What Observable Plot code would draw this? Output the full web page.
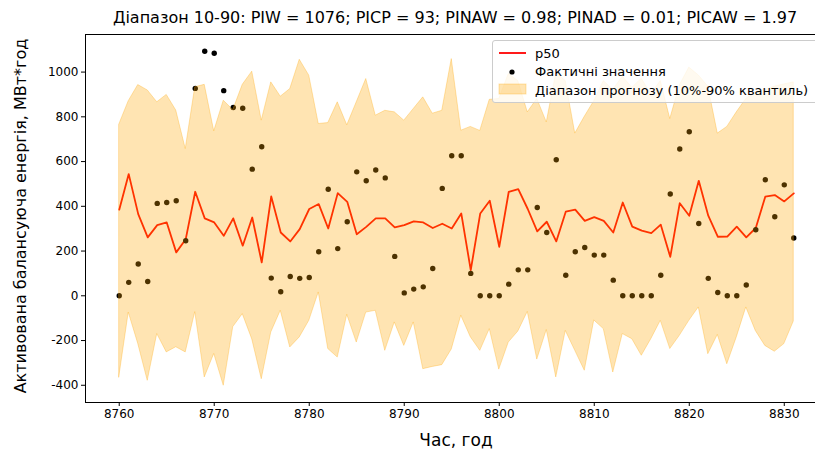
<!DOCTYPE html>
<html>
<head>
<meta charset="utf-8">
<script src="https://cdn.jsdelivr.net/npm/d3@7"></script>
<script src="https://cdn.jsdelivr.net/npm/@observablehq/plot@0.6"></script>
<style>
  html, body { margin: 0; padding: 0; background: #fff; overflow: hidden; }
  #wrap { position: relative; width: 815px; height: 452px; overflow: hidden; font-family: "DejaVu Sans", sans-serif; color: #000; }
  #title { position: absolute; left: 455px; top: 8px; transform: translateX(-50%); white-space: nowrap; font-size: 16px; }
  #ylab { position: absolute; left: 20px; top: 216px; transform: translate(-50%, -50%) rotate(-90deg); white-space: nowrap; font-size: 16px; }
  #xlab { position: absolute; left: 456px; top: 440px; transform: translate(-50%, -50%); white-space: nowrap; font-size: 17px; }
  #legend { position: absolute; left: 492px; top: 40px; width: 340px; height: 63px; background: rgba(255,255,255,0.8); border: 1px solid #cccccc; border-radius: 3px; box-sizing: border-box; }
  #legend svg { position: absolute; left: 0; top: 0; overflow: visible; }
</style>
</head>
<body>
<div id="wrap"></div>
<script>
const hours = [8760,8761,8762,8763,8764,8765,8766,8767,8768,8769,8770,8771,8772,8773,8774,8775,8776,8777,8778,8779,
  8780,8781,8782,8783,8784,8785,8786,8787,8788,8789,8790,8791,8792,8793,8794,8795,8796,8797,8798,8799,
  8800,8801,8802,8803,8804,8805,8806,8807,8808,8809,8810,8811,8812,8813,8814,8815,8816,8817,8818,8819,
  8820,8821,8822,8823,8824,8825,8826,8827,8828,8829,8830,8831];

const p50 = [385,544,365,261,316,328,194,253,465,346,328,268,346,224,350,149,444,283,243,298,
  388,410,301,459,420,275,308,346,346,306,316,333,328,303,322,301,368,115,368,425,
  219,465,477,388,288,331,243,376,385,335,352,335,283,417,309,291,280,318,174,414,
  358,514,358,264,265,309,261,303,443,450,422,458];

const actual = [0,60,142,64,413,417,425,246,927,1093,1084,917,842,838,566,666,79,18,86,78,
  82,197,476,211,331,554,514,562,527,176,13,30,40,122,480,626,626,100,0,0,
  0,52,116,116,395,283,608,92,197,216,182,182,70,0,0,0,0,92,455,656,
  733,323,78,15,0,0,48,295,519,353,496,258];

const lower = [-365,-75,-215,-380,-171,-253,-230,-253,-73,-365,-260,-402,-140,-82,-195,-373,-164,-67,-231,-186,
  -112,15,-238,-276,-85,-209,-75,-67,-246,-119,-224,-119,-328,-318,-310,-240,-89,-185,-246,-149,
  -330,-209,-160,-72,-285,-153,-365,-157,-246,-335,-110,-149,-343,-171,-194,-268,-194,-112,-238,-179,
  -112,-52,-261,-175,-306,-186,-52,-157,-224,-250,-216,-115];

const upper = [765,870,942,918,865,898,828,656,932,943,735,872,830,943,1002,783,954,890,924,1055,
  984,768,772,865,762,865,969,805,827,820,783,835,887,814,827,1058,738,755,737,876,
  880,991,960,820,880,775,995,960,725,800,870,960,920,980,930,970,900,960,790,940,
  1020,985,935,725,755,820,880,910,920,935,945,954];

const xTicks = [8760, 8770, 8780, 8790, 8800, 8810, 8820, 8830];
const yTicks = [-400, -200, 0, 200, 400, 600, 800, 1000];

const titleText = "Діапазон 10-90: PIW = 1076; PICP = 93; PINAW = 0.98; PINAD = 0.01; PICAW = 1.97";
const xLabel = "Час, год";
const yLabel = "Активована балансуюча енергія, МВт*год";
const legendLabels = ["p50", "Фактичні значення", "Діапазон прогнозу (10%-90% квантиль)"];

const data = hours.map((h, i) => ({h, p50: p50[i], actual: actual[i], lo: lower[i], hi: upper[i]}));

const xDomain = [8756.45, 8834.55];
const yDomain = [-477, 1168];

const chart = Plot.plot({
  width: 815,
  height: 452,
  marginLeft: 85,
  marginTop: 34,
  marginBottom: 50,
  marginRight: 0,
  style: {fontFamily: "DejaVu Sans", fontSize: "12px", color: "#000", background: "transparent"},
  x: {domain: xDomain, range: [85, 827]},
  y: {domain: yDomain, range: [402, 34]},
  marks: [
    Plot.line(data, {x: "h", y: "p50", stroke: "#ff0000", strokeWidth: 1.8}),
    Plot.dot(data, {x: "h", y: "actual", r: 2.7, fill: "#000", stroke: "none"}),
    Plot.areaY(data, {x: "h", y1: "lo", y2: "hi", fill: "orange", fillOpacity: 0.3, stroke: "orange", strokeOpacity: 0.3, strokeWidth: 1}),
    Plot.axisX({ticks: xTicks, tickFormat: d => String(d), tickSize: 4, tickPadding: 3, label: null, stroke: "#000"}),
    Plot.axisY({ticks: yTicks, tickFormat: d => String(d), tickSize: 4, tickPadding: 3, label: null, stroke: "#000"}),
    Plot.ruleY([yDomain[0]], {stroke: "#000", strokeWidth: 1}),
    Plot.ruleY([yDomain[1]], {stroke: "#000", strokeWidth: 1}),
    Plot.ruleX([xDomain[0]], {stroke: "#000", strokeWidth: 1})
  ]
});

const wrap = document.getElementById("wrap");
chart.style.position = "absolute";
chart.style.left = "0";
chart.style.top = "0";
wrap.appendChild(chart);

const t = document.createElement("div"); t.id = "title"; t.textContent = titleText; wrap.appendChild(t);
const yl = document.createElement("div"); yl.id = "ylab"; yl.textContent = yLabel; wrap.appendChild(yl);
const xl = document.createElement("div"); xl.id = "xlab"; xl.textContent = xLabel; wrap.appendChild(xl);

// legend
const lg = document.createElement("div"); lg.id = "legend";
const ns = "http://www.w3.org/2000/svg";
const ls = document.createElementNS(ns, "svg");
ls.setAttribute("width", "340"); ls.setAttribute("height", "63");
ls.style.fontFamily = "DejaVu Sans"; ls.style.fontSize = "13px";
function el(name, attrs) { const e = document.createElementNS(ns, name); for (const k in attrs) e.setAttribute(k, attrs[k]); ls.appendChild(e); return e; }
el("line", {x1: 6, x2: 33, y1: 12, y2: 12, stroke: "#ff0000", "stroke-width": 1.8});
el("circle", {cx: 19, cy: 31, r: 2.6, fill: "#000"});
el("rect", {x: 6, y: 43, width: 27, height: 10, fill: "orange", "fill-opacity": 0.3, stroke: "orange", "stroke-opacity": 0.3});
legendLabels.forEach((s, i) => {
  const tx = el("text", {x: 42, y: 12 + i * 18.5, "dominant-baseline": "central", fill: "#000"});
  tx.textContent = s;
});
lg.appendChild(ls);
wrap.appendChild(lg);
</script>
</body>
</html>
